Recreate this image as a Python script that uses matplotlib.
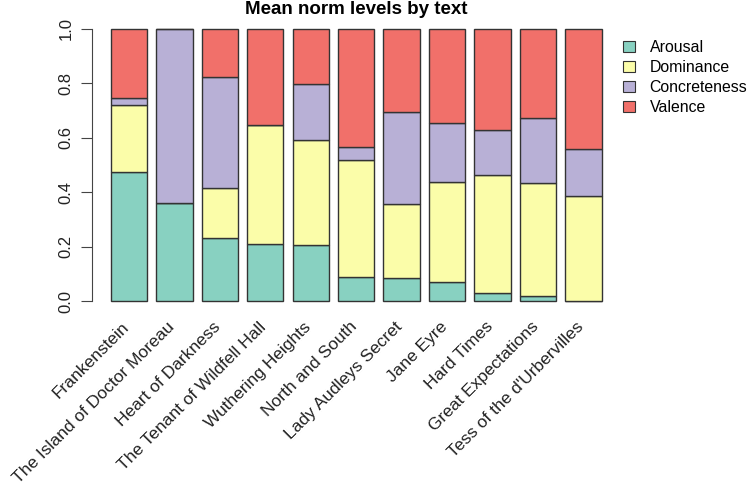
import matplotlib
matplotlib.use("Agg")
import matplotlib.pyplot as plt
import matplotlib.transforms as mtransforms
import numpy as np
from matplotlib.patches import Patch

plt.rcParams['font.family'] = ['Liberation Sans', 'DejaVu Sans']

texts = ["Frankenstein", "The Island of Doctor Moreau", "Heart of Darkness",
         "The Tenant of Wildfell Hall", "Wuthering Heights", "North and South",
         "Lady Audleys Secret", "Jane Eyre", "Hard Times", "Great Expectations",
         "Tess of the d'Urbervilles"]
arousal      = [0.474, 0.359, 0.230, 0.208, 0.205, 0.087, 0.085, 0.069, 0.029, 0.020, 0.000]
dominance    = [0.248, 0.000, 0.185, 0.439, 0.387, 0.430, 0.273, 0.367, 0.435, 0.415, 0.386]
concreteness = [0.026, 0.641, 0.409, 0.000, 0.207, 0.049, 0.336, 0.220, 0.166, 0.238, 0.172]
valence      = [0.252, 0.000, 0.176, 0.353, 0.201, 0.434, 0.306, 0.344, 0.370, 0.327, 0.442]

series = [("Arousal", arousal, "#88D1C1"),
          ("Dominance", dominance, "#FBFDA9"),
          ("Concreteness", concreteness, "#B8B0D6"),
          ("Valence", valence, "#F1706A")]

fig = plt.figure(figsize=(7.5, 4.87), dpi=100)
ax = fig.add_axes([0.1223, 0.3595, 0.8276 - 0.1223, 0.9628 - 0.3595])

x = np.arange(len(texts))
bottom = np.zeros(len(texts))
for name, vals, col in series:
    v = np.array(vals)
    ax.bar(x, v, width=0.8, bottom=bottom, color=col, edgecolor="#333333", linewidth=1.0)
    bottom += v

ax.set_xlim(-0.818, 10.818)
ax.set_ylim(-0.04, 1.04)
for s in ["top", "right", "bottom"]:
    ax.spines[s].set_visible(False)
ax.spines["left"].set_bounds(0, 1)
ax.spines["left"].set_color("#444444")
ax.set_yticks([0, 0.2, 0.4, 0.6, 0.8, 1.0])
ax.set_yticklabels(["0.0", "0.2", "0.4", "0.6", "0.8", "1.0"], rotation=90, va="center", fontsize=12, color="#222222")
ax.tick_params(axis="y", length=8, pad=5, color="#444444")
ax.set_xticks(x)
ax.set_xticklabels(texts, rotation=45, ha="right", va="center", rotation_mode="anchor", fontsize=12.5, color="#222222")
ax.tick_params(axis="x", length=0, pad=9)
shift = mtransforms.ScaledTranslation(-2 / 100, 0, fig.dpi_scale_trans)
for lbl in ax.get_xticklabels():
    lbl.set_transform(lbl.get_transform() + shift)

ax.set_title("Mean norm levels by text", fontsize=13.5, fontweight="bold", pad=1)

handles = [Patch(facecolor=c, edgecolor="#333333", linewidth=0.8, label=n) for n, _, c in series]
fig.legend(handles=handles, loc="upper left", bbox_to_anchor=(0.827, 0.925), frameon=False,
           fontsize=11.4, handlelength=0.7, handleheight=0.7, handletextpad=0.95, labelspacing=0.32,
           borderaxespad=0, borderpad=0.2)

fig.savefig("out.png", dpi=100)
